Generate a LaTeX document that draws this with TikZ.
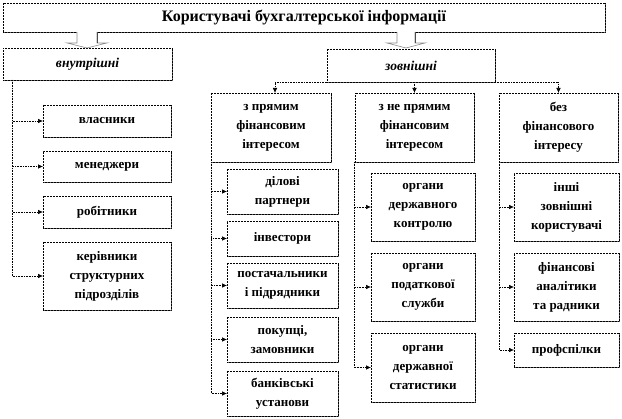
\documentclass[tikz,border=0pt]{standalone}
\usepackage{fontspec}
\setmainfont{Liberation Serif}
\usetikzlibrary{shadows,arrows.meta,calc}
\begin{document}
\begin{tikzpicture}[x=1pt,y=-1pt,
  box/.style={draw=black,densely dotted,line width=0.5pt,fill=white,inner sep=0pt,outer sep=0pt,
    align=center,font=\bfseries\fontsize{13}{19}\selectfont,
    drop shadow={shadow xshift=1.3pt,shadow yshift=-1.3pt,fill=black!60,opacity=1}},
  conn/.style={densely dotted,line width=0.6pt,-{Latex[length=5pt,width=4.5pt]}},
  blockarrow/.style={draw=black!45,fill=white,line width=0.6pt}]
\useasboundingbox (0,0) rectangle (622,419);
% top level
\node[box,minimum width=602,minimum height=29,font=\bfseries\fontsize{16}{19}\selectfont] (title) at (304,17.5) {Користувачі бухгалтерської інформації};
\node[box,minimum width=169,minimum height=32,font=\bfseries\itshape\fontsize{13.5}{19}\selectfont] (vnut) at (87.5,64) {внутрішні};
\node[box,minimum width=168,minimum height=33,font=\bfseries\itshape\fontsize{13.5}{19}\selectfont] (zovn) at (411,65.5) {зовнішні};
% block arrows
\coordinate (ba1) at (title.south -| 87,0);
\coordinate (ba2) at (title.south -| 406,0);
\draw[blockarrow] ($(ba1)+(-10,0)$) -- ++(0,11) -- ++(-10,0) -- ($(ba1)+(0,16)$) -- ($(ba1)+(20,11)$) -- ++(-10,0) -- ++(0,-11);
\draw[black!70,line width=0.8pt] ($(ba1)+(10,0)$) -- ++(0,11);
\draw[blockarrow] ($(ba2)+(-9,0)$) -- ++(0,11) -- ++(-10,0) -- ($(ba2)+(0,16)$) -- ($(ba2)+(19,11)$) -- ++(-10,0) -- ++(0,-11);
\draw[black!70,line width=0.8pt] ($(ba2)+(9,0)$) -- ++(0,11);
% columns headers
\node[box,minimum width=120,minimum height=69] (c1) at (271,127.5) {з прямим\\фінансовим\\інтересом};
\node[box,minimum width=119,minimum height=69] (c2) at (414.5,127.5) {з не прямим\\фінансовим\\інтересом};
\node[box,minimum width=119,minimum height=69] (c3) at (558.5,127.5) {без\\фінансового\\інтересу};
% internal users
\node[box,minimum width=128,minimum height=32] (a1) at (107,121) {власники};
\node[box,minimum width=128,minimum height=31] (a2) at (107,166.5) {менеджери};
\node[box,minimum width=128,minimum height=32] (a3) at (107,212) {робітники};
\node[box,minimum width=128,minimum height=68] (a4) at (107,276) {керівники\\структурних\\підрозділів};
% column 1
\node[box,minimum width=111,minimum height=45] (b1) at (282.5,191.5) {ділові\\партнери};
\node[box,minimum width=111,minimum height=35] (b2) at (282.5,238.5) {інвестори};
\node[box,minimum width=111,minimum height=45] (b3) at (282.5,285.5) {постачальники\\і підрядники};
\node[box,minimum width=111,minimum height=45] (b4) at (282.5,339.5) {покупці,\\замовники};
\node[box,minimum width=111,minimum height=45] (b5) at (282.5,393.5) {банківські\\установи};
% column 2
\node[box,minimum width=104,minimum height=68] (d1) at (423,207) {органи\\державного\\контролю};
\node[box,minimum width=104,minimum height=68] (d2) at (423,287) {органи\\податкової\\служби};
\node[box,minimum width=104,minimum height=69] (d3) at (423,367.5) {органи\\державної\\статистики};
% column 3
\node[box,minimum width=105,minimum height=68] (e1) at (566.5,207) {інші\\зовнішні\\користувачі};
\node[box,minimum width=105,minimum height=68] (e2) at (566.5,287) {фінансові\\аналітики\\та радники};
\node[box,minimum width=105,minimum height=34] (e3) at (566.5,350) {профспілки};
% connectors internal
\coordinate (vl) at ($(vnut.south west)+(9,0)$);
\foreach \t in {a1,a2,a3,a4} \draw[conn] (vl) |- (\t.west);
% connectors external
\draw[conn] (zovn.south west) -| ($(c1.north)+(4,0)$);
\draw[conn] (c2.north |- zovn.south) -- (c2.north);
\draw[conn] (zovn.south east) -| (c3.north);
\foreach \t in {b1,b2,b3,b4,b5} \draw[conn] (c1.south west) |- (\t.west);
\foreach \t in {d1,d2,d3} \draw[conn] ($(c2.south west)+(-1,0)$) |- (\t.west);
\foreach \t in {e1,e2,e3} \draw[conn] (c3.south west) |- (\t.west);
\end{tikzpicture}
\end{document}
